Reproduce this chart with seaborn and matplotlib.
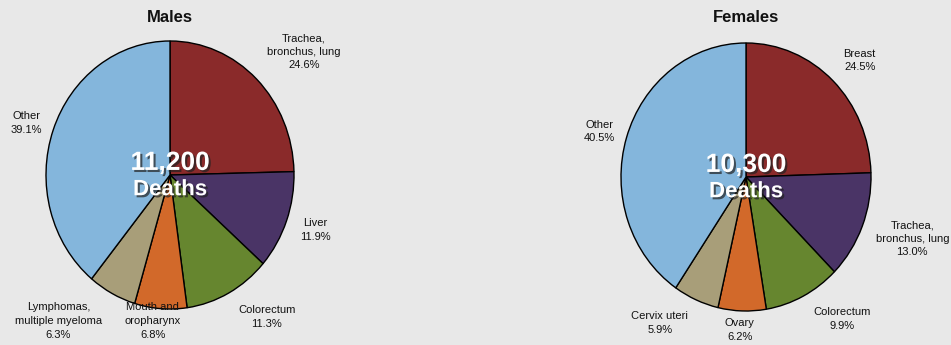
import matplotlib
matplotlib.use("Agg")
import matplotlib.pyplot as plt
import matplotlib.patheffects as pe
import seaborn as sns

# ---- data ----
male_labels = ["Trachea,\nbronchus, lung", "Liver", "Colorectum",
               "Mouth and\noropharynx", "Lymphomas,\nmultiple myeloma", "Other"]
male_values = [24.6, 11.9, 11.3, 6.8, 6.3, 39.1]
male_total = "11,200"

female_labels = ["Breast", "Trachea,\nbronchus, lung", "Colorectum",
                 "Ovary", "Cervix uteri", "Other"]
female_values = [24.5, 13.0, 9.9, 6.2, 5.9, 40.5]
female_total = "10,300"

# ---- style ----
sns.set_theme(style="white")
plt.rcParams["font.family"] = ["Liberation Sans", "DejaVu Sans"]
BG = "#e8e8e8"
colors = ["#8a2a2a", "#4a3466", "#66862f", "#d2692a", "#a89e79", "#84b6dc"]

# label anchor positions (in pie-radius units)
male_label_pos = [(1.08, 0.92), (1.17, -0.41), (0.78, -1.06),
                  (-0.14, -1.09), (-0.90, -1.09), (-1.16, 0.39)]
female_label_pos = [(0.91, 0.87), (1.33, -0.46), (0.77, -1.06),
                    (-0.05, -1.14), (-0.69, -1.09), (-1.17, 0.34)]

W, H = 951, 345
fig = plt.figure(figsize=(W / 100, H / 100), dpi=100, facecolor=BG)

def draw(cx, cy_top, rx, ry, labels, values, total, title, label_pos):
    cy = H - cy_top
    hx, hy = 1.37, 1.27
    aw, ah = 2 * hx * rx, 2 * hy * ry
    ax = fig.add_axes([(cx - aw / 2) / W, (cy - ah / 2) / H, aw / W, ah / H])
    ax.set_facecolor(BG)
    ax.pie(values, colors=colors, startangle=90, counterclock=False,
           wedgeprops=dict(edgecolor="black", linewidth=1.0))
    ax.set_aspect("auto")
    ax.set_xlim(-hx, hx)
    ax.set_ylim(-hy, hy)
    ax.axis("off")
    for lab, v, (x, y) in zip(labels, values, label_pos):
        ax.text(x, y, f"{lab}\n{v:.1f}%", ha="center", va="center",
                fontsize=8, color="#111111", linespacing=1.45)
    shadow = [pe.withSimplePatchShadow(offset=(1.5, -1.5), shadow_rgbFace="#222222", alpha=0.7)]
    ax.text(0.0, 0.09, total, ha="center", va="center", fontsize=19,
            fontweight="bold", color="white", path_effects=shadow)
    ax.text(0.0, -0.11, "Deaths", ha="center", va="center", fontsize=16,
            fontweight="bold", color="white", path_effects=shadow)
    fig.text(cx / W, 1 - 17 / H, title, ha="center", va="center",
             fontsize=12, fontweight="bold", color="#111111")

draw(170, 175, 124, 134, male_labels, male_values, male_total, "Males", male_label_pos)
draw(746, 177, 125, 134, female_labels, female_values, female_total, "Females", female_label_pos)

fig.savefig("out.png", dpi=100, facecolor=BG)
